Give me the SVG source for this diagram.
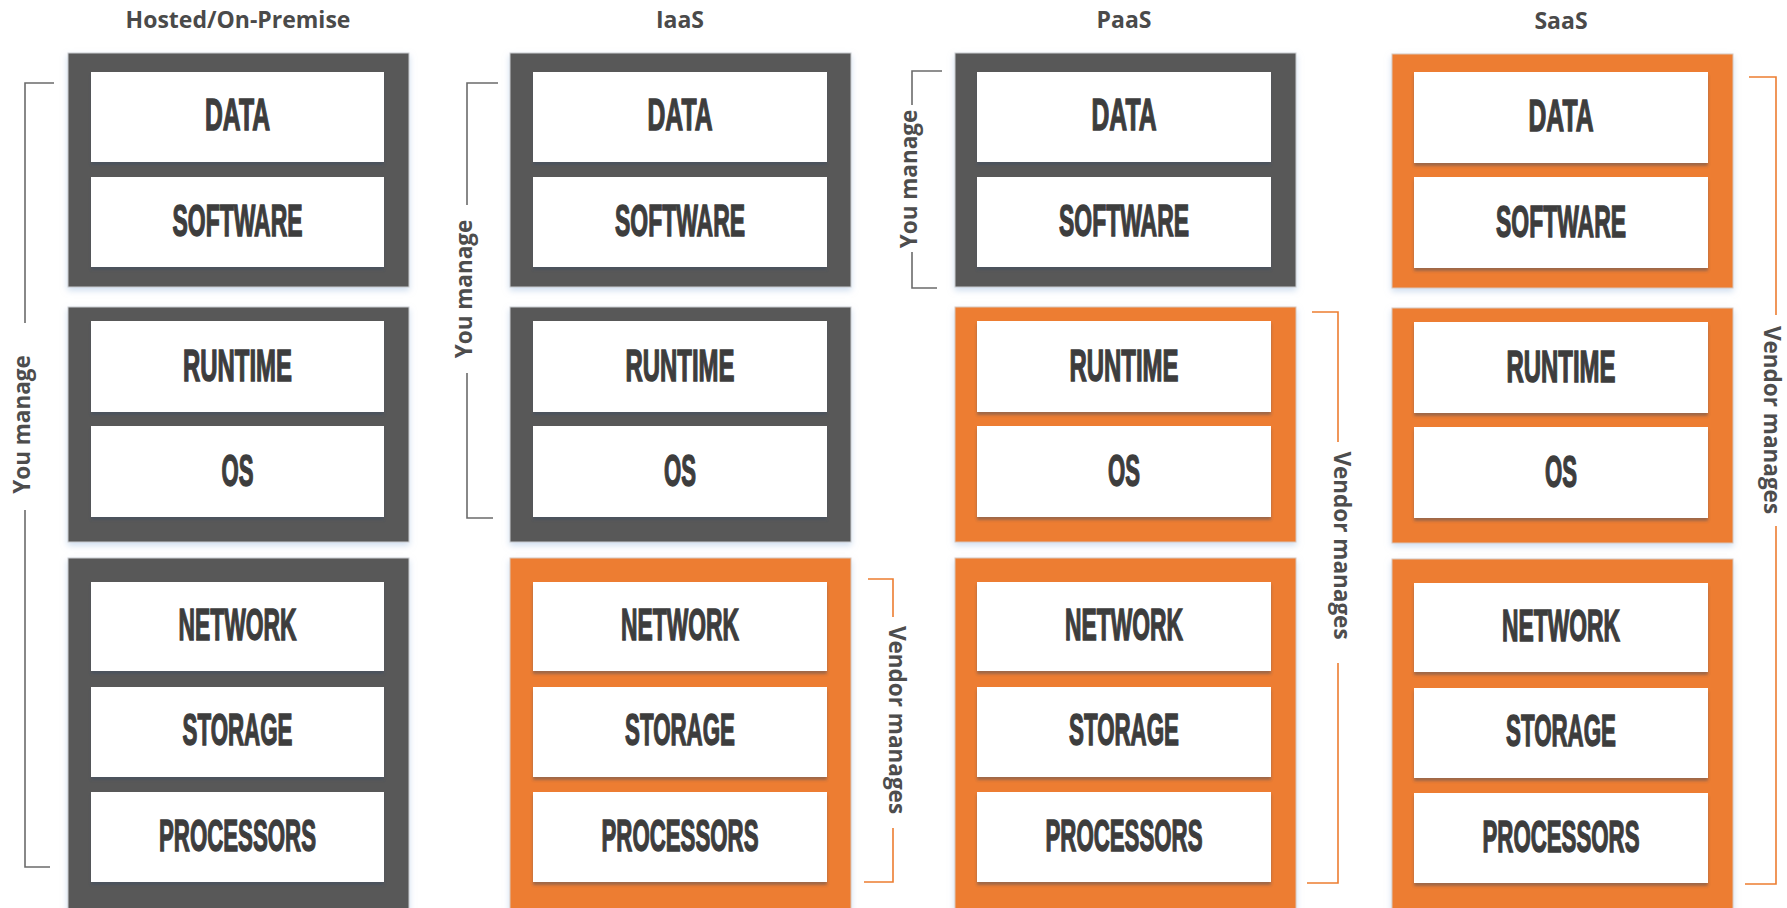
<svg xmlns="http://www.w3.org/2000/svg" width="1787" height="908" viewBox="0 0 1787 908">
  <defs>
    <filter id="outerShadow" x="-5%" y="-5%" width="110%" height="115%">
      <feDropShadow dx="0" dy="3" stdDeviation="3" flood-color="#a9c2e2" flood-opacity="0.55"/>
    </filter>
    <filter id="cellShadow" x="-2%" y="-5%" width="104%" height="120%">
      <feDropShadow dx="0" dy="3" stdDeviation="1.5" flood-color="#3c4c64" flood-opacity="0.45"/>
    </filter>
  </defs>
  <style>
    .dark { fill: #595959; stroke: #c9ccd0; stroke-width: 1; filter: url(#outerShadow); }
    .orange { fill: #ED7D31; stroke: #d9c7bb; stroke-width: 1; filter: url(#outerShadow); }
    .cell { fill: #ffffff; filter: url(#cellShadow); }
    .lbl { font-family: "Liberation Sans Narrow", "Liberation Sans", Arial, sans-serif; font-weight: 700; font-size: 30px; fill: #3d3d3d; stroke: #3d3d3d; stroke-width: 1; text-anchor: middle; }
    .hdr { font-family: "Open Sans", "Liberation Sans", sans-serif; font-weight: 700; font-size: 23px; fill: #4a4a4a; text-anchor: middle; }
    .side { font-family: "Open Sans", "Liberation Sans", sans-serif; font-weight: 700; font-size: 22.5px; fill: #4d4d4d; text-anchor: middle; }
    .brg { fill: none; stroke: #6b6b6b; stroke-width: 1.6; }
    .bro { fill: none; stroke: #ED7D31; stroke-width: 1.6; }
  </style>

  <rect width="1787" height="908" fill="#ffffff"/>

  <!-- Headers -->
  <g id="headers">
    <text class="hdr" x="238" y="28">Hosted/On-Premise</text>
    <text class="hdr" x="680" y="28">IaaS</text>
    <text class="hdr" x="1124" y="28">PaaS</text>
    <text class="hdr" x="1561" y="29">SaaS</text>
  </g>

  <!-- Column 1: Hosted / On-Premise -->
  <g id="col-hosted">
    <g id="hosted-app">
      <rect class="dark" x="68" y="53" width="341" height="234"/>
      <g id="hosted-data"><rect class="cell" x="91" y="72" width="293" height="90"/><text class="lbl" transform="translate(237.5,130) scale(1,1.5)" textLength="65" lengthAdjust="spacingAndGlyphs">DATA</text></g>
      <g id="hosted-software"><rect class="cell" x="91" y="177" width="293" height="90"/><text class="lbl" transform="translate(237.5,236) scale(1,1.5)" textLength="130" lengthAdjust="spacingAndGlyphs">SOFTWARE</text></g>
    </g>
    <g id="hosted-platform">
      <rect class="dark" x="68" y="307" width="341" height="235"/>
      <g id="hosted-runtime"><rect class="cell" x="91" y="321" width="293" height="91"/><text class="lbl" transform="translate(237.5,381) scale(1,1.5)" textLength="109" lengthAdjust="spacingAndGlyphs">RUNTIME</text></g>
      <g id="hosted-os"><rect class="cell" x="91" y="426" width="293" height="91"/><text class="lbl" transform="translate(237.5,486) scale(1,1.5)" textLength="32" lengthAdjust="spacingAndGlyphs">OS</text></g>
    </g>
    <g id="hosted-infra">
      <rect class="dark" x="68" y="558" width="341" height="360"/>
      <g id="hosted-network"><rect class="cell" x="91" y="582" width="293" height="89"/><text class="lbl" transform="translate(237.5,640) scale(1,1.5)" textLength="118" lengthAdjust="spacingAndGlyphs">NETWORK</text></g>
      <g id="hosted-storage"><rect class="cell" x="91" y="687" width="293" height="90"/><text class="lbl" transform="translate(237.5,745) scale(1,1.5)" textLength="110" lengthAdjust="spacingAndGlyphs">STORAGE</text></g>
      <g id="hosted-processors"><rect class="cell" x="91" y="792" width="293" height="90"/><text class="lbl" transform="translate(237.5,851) scale(1,1.5)" textLength="157" lengthAdjust="spacingAndGlyphs">PROCESSORS</text></g>
    </g>
  </g>

  <!-- Column 2: IaaS -->
  <g id="col-iaas">
    <g id="iaas-app">
      <rect class="dark" x="510" y="53" width="341" height="234"/>
      <g id="iaas-data"><rect class="cell" x="533" y="72" width="294" height="90"/><text class="lbl" transform="translate(680,130) scale(1,1.5)" textLength="65" lengthAdjust="spacingAndGlyphs">DATA</text></g>
      <g id="iaas-software"><rect class="cell" x="533" y="177" width="294" height="90"/><text class="lbl" transform="translate(680,236) scale(1,1.5)" textLength="130" lengthAdjust="spacingAndGlyphs">SOFTWARE</text></g>
    </g>
    <g id="iaas-platform">
      <rect class="dark" x="510" y="307" width="341" height="235"/>
      <g id="iaas-runtime"><rect class="cell" x="533" y="321" width="294" height="91"/><text class="lbl" transform="translate(680,381) scale(1,1.5)" textLength="109" lengthAdjust="spacingAndGlyphs">RUNTIME</text></g>
      <g id="iaas-os"><rect class="cell" x="533" y="426" width="294" height="91"/><text class="lbl" transform="translate(680,486) scale(1,1.5)" textLength="32" lengthAdjust="spacingAndGlyphs">OS</text></g>
    </g>
    <g id="iaas-infra">
      <rect class="orange" x="510" y="558" width="341" height="360"/>
      <g id="iaas-network"><rect class="cell" x="533" y="582" width="294" height="89"/><text class="lbl" transform="translate(680,640) scale(1,1.5)" textLength="118" lengthAdjust="spacingAndGlyphs">NETWORK</text></g>
      <g id="iaas-storage"><rect class="cell" x="533" y="687" width="294" height="90"/><text class="lbl" transform="translate(680,745) scale(1,1.5)" textLength="110" lengthAdjust="spacingAndGlyphs">STORAGE</text></g>
      <g id="iaas-processors"><rect class="cell" x="533" y="792" width="294" height="90"/><text class="lbl" transform="translate(680,851) scale(1,1.5)" textLength="157" lengthAdjust="spacingAndGlyphs">PROCESSORS</text></g>
    </g>
  </g>

  <!-- Column 3: PaaS -->
  <g id="col-paas">
    <g id="paas-app">
      <rect class="dark" x="955" y="53" width="341" height="234"/>
      <g id="paas-data"><rect class="cell" x="977" y="72" width="294" height="90"/><text class="lbl" transform="translate(1124,130) scale(1,1.5)" textLength="65" lengthAdjust="spacingAndGlyphs">DATA</text></g>
      <g id="paas-software"><rect class="cell" x="977" y="177" width="294" height="90"/><text class="lbl" transform="translate(1124,236) scale(1,1.5)" textLength="130" lengthAdjust="spacingAndGlyphs">SOFTWARE</text></g>
    </g>
    <g id="paas-platform">
      <rect class="orange" x="955" y="307" width="341" height="235"/>
      <g id="paas-runtime"><rect class="cell" x="977" y="321" width="294" height="91"/><text class="lbl" transform="translate(1124,381) scale(1,1.5)" textLength="109" lengthAdjust="spacingAndGlyphs">RUNTIME</text></g>
      <g id="paas-os"><rect class="cell" x="977" y="426" width="294" height="91"/><text class="lbl" transform="translate(1124,486) scale(1,1.5)" textLength="32" lengthAdjust="spacingAndGlyphs">OS</text></g>
    </g>
    <g id="paas-infra">
      <rect class="orange" x="955" y="558" width="341" height="360"/>
      <g id="paas-network"><rect class="cell" x="977" y="582" width="294" height="89"/><text class="lbl" transform="translate(1124,640) scale(1,1.5)" textLength="118" lengthAdjust="spacingAndGlyphs">NETWORK</text></g>
      <g id="paas-storage"><rect class="cell" x="977" y="687" width="294" height="90"/><text class="lbl" transform="translate(1124,745) scale(1,1.5)" textLength="110" lengthAdjust="spacingAndGlyphs">STORAGE</text></g>
      <g id="paas-processors"><rect class="cell" x="977" y="792" width="294" height="90"/><text class="lbl" transform="translate(1124,851) scale(1,1.5)" textLength="157" lengthAdjust="spacingAndGlyphs">PROCESSORS</text></g>
    </g>
  </g>

  <!-- Column 4: SaaS -->
  <g id="col-saas">
    <g id="saas-app">
      <rect class="orange" x="1392" y="54" width="341" height="234"/>
      <g id="saas-data"><rect class="cell" x="1414" y="72" width="294" height="91"/><text class="lbl" transform="translate(1561,131) scale(1,1.5)" textLength="65" lengthAdjust="spacingAndGlyphs">DATA</text></g>
      <g id="saas-software"><rect class="cell" x="1414" y="177" width="294" height="91"/><text class="lbl" transform="translate(1561,237) scale(1,1.5)" textLength="130" lengthAdjust="spacingAndGlyphs">SOFTWARE</text></g>
    </g>
    <g id="saas-platform">
      <rect class="orange" x="1392" y="308" width="341" height="235"/>
      <g id="saas-runtime"><rect class="cell" x="1414" y="322" width="294" height="91"/><text class="lbl" transform="translate(1561,382) scale(1,1.5)" textLength="109" lengthAdjust="spacingAndGlyphs">RUNTIME</text></g>
      <g id="saas-os"><rect class="cell" x="1414" y="427" width="294" height="91"/><text class="lbl" transform="translate(1561,487) scale(1,1.5)" textLength="32" lengthAdjust="spacingAndGlyphs">OS</text></g>
    </g>
    <g id="saas-infra">
      <rect class="orange" x="1392" y="559" width="341" height="360"/>
      <g id="saas-network"><rect class="cell" x="1414" y="583" width="294" height="89"/><text class="lbl" transform="translate(1561,641) scale(1,1.5)" textLength="118" lengthAdjust="spacingAndGlyphs">NETWORK</text></g>
      <g id="saas-storage"><rect class="cell" x="1414" y="688" width="294" height="90"/><text class="lbl" transform="translate(1561,746) scale(1,1.5)" textLength="110" lengthAdjust="spacingAndGlyphs">STORAGE</text></g>
      <g id="saas-processors"><rect class="cell" x="1414" y="793" width="294" height="90"/><text class="lbl" transform="translate(1561,852) scale(1,1.5)" textLength="157" lengthAdjust="spacingAndGlyphs">PROCESSORS</text></g>
    </g>
  </g>

  <!-- Brackets (connectors) -->
  <g id="brackets">
    <g id="br-hosted-you">
      <path class="brg" d="M54,83 H25 V323 M25,510 V867 H50"/>
      <text class="side" transform="translate(29.5,424.5) rotate(-90)">You manage</text>
    </g>
    <g id="br-iaas-you">
      <path class="brg" d="M498,83 H467 V205 M467,373 V518 H493"/>
      <text class="side" transform="translate(471.5,289) rotate(-90)">You manage</text>
    </g>
    <g id="br-iaas-vendor">
      <path class="bro" d="M868,579 H893 V617 M893,828 V882 H864"/>
      <text class="side" transform="translate(888.5,720) rotate(90)">Vendor manages</text>
    </g>
    <g id="br-paas-you">
      <path class="brg" d="M942,71 H912 V105 M912,252 V288 H937"/>
      <text class="side" transform="translate(916.5,179) rotate(-90)">You manage</text>
    </g>
    <g id="br-paas-vendor">
      <path class="bro" d="M1312,312 H1338 V442 M1338,663 V883 H1307"/>
      <text class="side" transform="translate(1333.5,545.5) rotate(90)">Vendor manages</text>
    </g>
    <g id="br-saas-vendor">
      <path class="bro" d="M1749,77 H1776 V315 M1776,526 V884 H1745"/>
      <text class="side" transform="translate(1764,420) rotate(90)">Vendor manages</text>
    </g>
  </g>
</svg>
